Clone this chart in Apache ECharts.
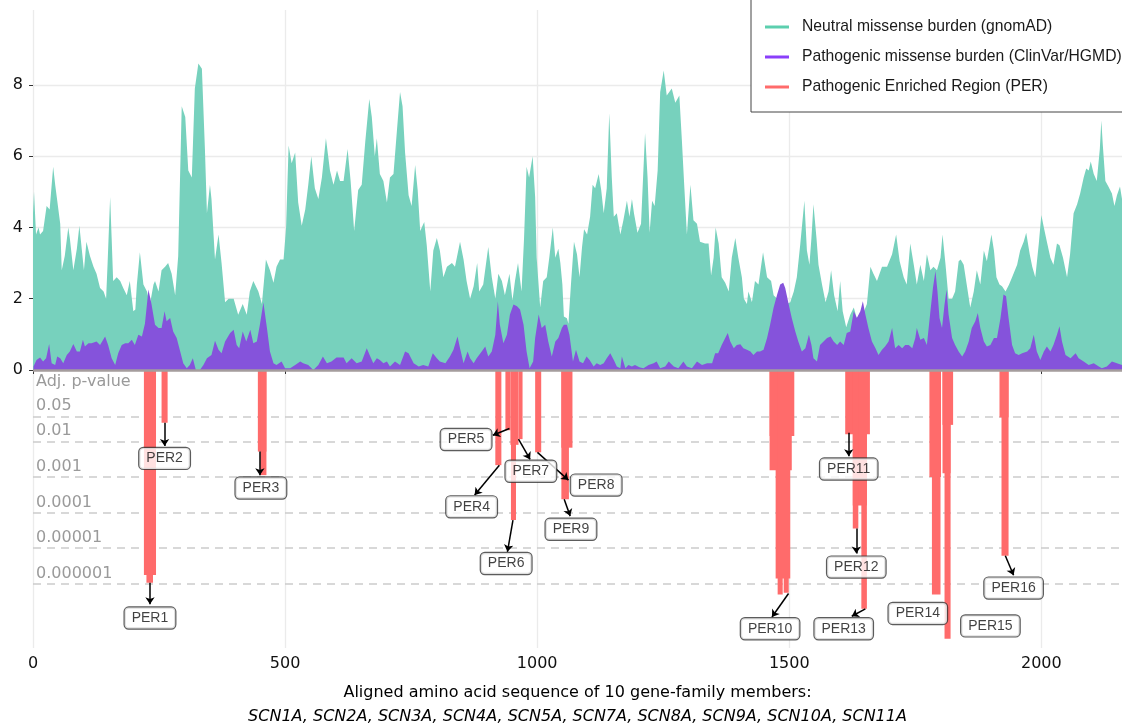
<!DOCTYPE html>
<html>
<head>
<meta charset="utf-8">
<script src="https://cdn.jsdelivr.net/npm/echarts@6/dist/echarts.min.js"></script>
<style>
html,body{margin:0;padding:0;background:#fff;}
#chart{width:1122px;height:726px;}
</style>
</head>
<body>
<div id="chart"></div>
<script>
// ---- Data ----
const neutralBurden = [
[0,4.4],[2,5.0],[6,3.8],[11,4.0],[14,3.8],[20,3.9],[27,4.6],[33,4.5],[40,5.7],[44,5.2],[54,4.1],[57,2.8],[63,3.2],[70,4.0],[73,3.7],[80,2.8],[87,3.4],[92,4.05],[97,3.35],[101,2.8],[106,3.6],[113,3.2],[120,2.9],[126,2.7],[133,2.3],[140,2.2],[145,2.0],[148,3.0],[153,4.85],[156,3.7],[159,2.5],[166,2.6],[173,2.5],[179,2.3],[186,2.1],[192,2.5],[199,1.65],[203,1.7],[206,2.4],[212,3.3],[219,2.4],[226,2.2],[232,1.85],[239,2.4],[242,2.5],[249,2.2],[255,2.8],[262,2.9],[268,3.0],[275,2.7],[282,2.1],[288,3.2],[295,7.4],[302,7.1],[308,5.6],[315,5.4],[321,7.9],[328,8.6],[335,8.45],
[337,8.4],[341,6.2],[345,4.4],[351,5.2],[354,4.8],[361,3.1],[368,3.8],[374,3.0],[381,1.9],[388,2.0],[398,2.0],[407,1.55],[416,1.85],[424,1.55],[430,2.2],[437,2.5],[447,2.2],[454,1.85],[462,3.1],[470,2.8],[477,2.45],[483,2.9],[490,3.1],[497,3.1],[502,4.0],[507,6.3],[513,5.8],[520,6.1],[526,4.7],[533,4.05],[540,4.5],[546,5.2],[552,6.0],[559,5.1],[566,4.8],[573,5.4],[581,6.5],[589,5.6],[596,5.2],[603,5.6],[609,5.3],[616,5.3],[624,6.2],[630,5.3],[637,3.9],[645,5.05],[652,5.2],[659,6.4],[667,7.6],[672,7.1],[678,6.0],[682,6.5],
[688,5.5],[695,5.3],[702,4.7],[708,5.4],[715,5.5],[722,6.75],[728,7.8],[733,7.4],[738,6.1],[745,4.9],[751,4.6],[758,5.75],[763,5.05],[768,3.9],[776,4.15],[781,3.5],[788,2.2],[794,3.35],[801,3.7],[807,3.35],[814,2.6],[821,2.9],[831,3.0],[837,2.9],[847,3.6],[854,3.1],[860,2.5],[867,2.0],[874,2.35],[881,3.0],[885,2.2],[893,2.4],[903,3.45],[910,2.6],[917,2.0],[923,2.7],[930,2.5],[936,2.1],[945,2.7],[951,1.95],[956,2.5],[962,3.0],[969,2.2],[974,3.7],[979,5.7],[984,5.4],[991,6.0],[996,4.85],[999,3.15],[1006,1.75],[1012,2.5],[1019,2.6],[1024,3.15],[1031,4.0],[1036,3.15],[1042,3.4],
[1046,3.0],[1050,2.4],[1053,1.5],[1059,1.45],[1062,1.3],[1067,2.4],[1073,3.6],[1079,3.25],[1084,2.6],[1089,3.45],[1093,3.95],[1099,3.8],[1105,4.3],[1110,5.2],[1115,5.1],[1122,5.5],[1127,5.05],[1132,4.4],[1138,5.1],[1143,7.2],[1148,5.4],[1152,4.3],[1158,4.4],[1165,3.8],[1171,4.2],[1178,4.75],[1183,4.3],[1188,4.8],[1192,4.4],[1199,3.85],[1206,4.1],[1214,6.65],[1219,5.4],[1223,3.85],[1228,4.75],[1233,4.6],[1239,5.6],[1244,7.8],[1251,8.4],[1257,7.7],[1267,7.9],[1274,7.5],[1282,7.7],[1287,6.45],[1292,5.1],[1297,3.8],[1304,5.2],[1310,4.2],[1317,4.1],[1323,3.6],[1333,3.55],[1340,3.55],[1345,2.65],[1350,3.15],[1354,4.0],[1360,3.55],[1366,2.6],[1373,2.45],[1380,2.2],[1386,3.15],[1393,3.7],[1399,3.15],
[1406,2.6],[1410,2.0],[1416,1.85],[1419,2.2],[1426,1.9],[1432,2.5],[1439,2.4],[1448,3.3],[1456,2.6],[1464,2.5],[1469,2.1],[1476,2.0],[1485,1.95],[1495,1.85],[1502,1.9],[1509,2.2],[1515,2.6],[1522,3.55],[1530,4.75],[1535,3.35],[1540,2.95],[1544,3.7],[1548,4.65],[1554,3.7],[1558,2.95],[1565,2.4],[1572,1.9],[1578,2.2],[1583,2.8],[1589,2.1],[1596,1.65],[1601,2.5],[1606,1.65],[1613,1.2],[1621,1.55],[1628,1.75],[1634,1.45],[1641,1.55],[1647,1.6],[1654,1.85],[1661,2.9],[1667,2.7],[1674,2.5],[1684,2.9],[1694,2.9],[1704,3.25],[1712,3.8],[1719,3.05],[1727,2.6],[1733,2.4],[1740,3.55],[1747,2.95],[1753,2.4],
[1760,2.95],[1767,2.5],[1773,3.25],[1780,2.8],[1786,2.9],[1793,2.8],[1800,3.15],[1804,3.8],[1810,2.95],[1816,2.0],[1823,2.0],[1829,2.2],[1836,3.05],[1840,3.1],[1846,2.95],[1852,2.4],[1859,1.75],[1866,2.2],[1872,2.8],[1879,2.4],[1886,3.35],[1892,3.05],[1901,3.8],[1906,3.35],[1911,2.6],[1917,2.4],[1922,2.35],[1929,2.2],[1936,2.4],[1942,2.6],[1952,2.95],[1958,3.35],[1965,3.6],[1970,3.85],[1977,3.25],[1982,2.9],[1988,2.6],[1995,3.55],[2000,4.35],[2005,4.0],[2011,3.6],[2018,3.15],[2024,2.95],[2031,3.55],[2036,3.5],[2043,3.15],[2051,2.6],[2057,3.25],[2064,4.4],[2071,4.65],[2077,4.95],[2084,5.4],[2089,5.65],[2094,5.6],[2098,5.85],[2104,5.5],[2110,5.3],[2116,6.2],[2119,7.0],[2122,6.3],[2127,5.3],[2133,5.15],[2140,4.95],[2145,4.6],[2150,4.9],[2156,5.15],[2160,4.8]
];

const pathogenicBurden = [
[1,0.1],[7,0.28],[14,0.35],[20,0.24],[26,0.33],[32,0.73],[37,0.19],[44,0.14],[48,0.38],[54,0.33],[60,0.19],[67,0.42],[73,0.52],[80,0.73],[87,0.52],[93,0.52],[99,0.85],[103,0.66],[110,0.75],[116,0.75],[126,0.8],[133,0.7],[143,0.94],[149,0.7],[156,0.33],[163,0.14],[169,0.47],[176,0.7],[183,0.75],[189,0.75],[196,0.85],[202,0.7],[209,0.99],[216,0.94],[222,1.3],[229,2.26],[235,1.85],[242,1.27],[249,1.18],[255,1.18],[261,1.65],[265,1.37],[272,1.46],[278,1.08],[285,0.9],[292,0.52],[298,0.19],[305,0.05],[311,0.14],[317,0.33],[323,0.0],[331,0.0],[338,0.14],[345,0.33],
[348,0.33],[354,0.42],[361,0.82],[368,0.57],[374,0.47],[381,0.8],[391,1.04],[398,1.13],[404,0.7],[409,0.61],[416,1.08],[423,0.8],[431,1.13],[437,0.75],[444,0.8],[450,1.27],[457,1.89],[464,1.18],[470,0.52],[477,0.19],[483,0.14],[493,0.24],[500,0.05],[510,0.05],[520,0.14],[530,0.24],[536,0.19],[546,0.14],[556,0.0],[566,0.14],[575,0.38],[583,0.19],[592,0.24],[602,0.35],[616,0.35],[622,0.19],[632,0.33],[642,0.19],[652,0.24],[662,0.61],[669,0.38],[675,0.19],[682,0.33],
[688,0.28],[695,0.19],[702,0.24],[708,0.1],[718,0.24],[728,0.14],[738,0.52],[745,0.47],[755,0.19],[765,0.1],[774,0.14],[784,0.1],[793,0.47],[801,0.33],[807,0.24],[818,0.19],[827,0.38],[834,0.57],[842,0.94],[847,0.61],[854,0.19],[862,0.52],[867,0.33],[874,0.19],[880,0.33],[890,0.52],[897,0.66],[903,0.38],[910,0.52],[917,0.99],[922,1.93],[926,1.27],[933,0.75],[940,0.99],[946,1.56],[953,1.84],[960,1.79],[966,1.7],[973,1.27],[979,0.52],[985,0.05],[992,0.24],[996,0.9],[1003,1.56],[1009,1.18],[1016,1.27],[1022,0.8],[1029,0.38],[1036,0.8],[1042,0.9],[1049,1.18],[1053,1.27],[1059,1.27],
[1064,0.99],[1071,0.24],[1077,0.57],[1084,0.24],[1091,0.19],[1098,0.38],[1104,0.28],[1112,0.1],[1118,0.19],[1125,0.14],[1132,0.19],[1138,0.33],[1145,0.47],[1152,0.28],[1158,0.1],[1165,0.05],[1168,0.38],[1175,0.05],[1181,0.14],[1188,0.1],[1194,0.14],[1204,0.07],[1211,0.05],[1221,0.14],[1231,0.19],[1237,0.24],[1244,0.05],[1254,0.1],[1261,0.24],[1271,0.1],[1280,0.05],[1290,0.24],[1297,0.1],[1307,0.05],[1317,0.24],[1327,0.14],[1337,0.19],[1347,0.19],[1353,0.47],[1359,0.47],[1366,0.7],[1373,0.9],[1378,1.04],[1383,0.8],[1390,0.61],[1396,0.7],[1403,0.72],
[1409,0.61],[1416,0.57],[1423,0.52],[1429,0.42],[1436,0.52],[1442,0.52],[1449,0.57],[1456,0.9],[1462,1.27],[1469,1.75],[1476,2.12],[1482,2.4],[1488,2.45],[1492,2.3],[1499,1.84],[1505,1.46],[1512,1.08],[1518,0.8],[1525,0.52],[1532,0.61],[1539,0.99],[1544,0.7],[1548,0.33],[1555,0.24],[1561,0.7],[1568,0.8],[1575,0.9],[1582,0.94],[1588,0.8],[1595,0.7],[1601,0.8],[1608,0.7],[1614,1.04],[1621,1.08],[1628,1.65],[1634,1.46],[1641,1.65],[1646,1.93],[1651,1.56],[1657,1.18],[1664,0.8],[1671,0.61],[1677,0.42],[1684,0.57],[1690,0.66],[1697,0.8],[1704,1.18],[1710,0.61],[1717,0.7],[1724,0.61],[1730,0.7],[1737,0.7],[1744,0.61],[1750,0.9],[1753,1.18],[1760,0.85],
[1767,0.9],[1773,0.7],[1780,1.65],[1785,2.3],[1790,2.78],[1794,2.2],[1798,1.46],[1803,1.18],[1808,1.84],[1812,2.26],[1816,1.56],[1823,0.9],[1829,0.7],[1836,0.52],[1843,0.38],[1849,0.52],[1856,0.8],[1862,1.18],[1869,1.37],[1874,1.6],[1879,1.18],[1886,0.8],[1892,0.66],[1899,0.7],[1906,0.9],[1912,0.9],[1919,1.46],[1925,2.12],[1930,2.07],[1935,1.46],[1942,0.7],[1948,0.47],[1955,0.42],[1962,0.47],[1972,0.52],[1978,0.61],[1985,0.99],[1991,0.52],[1998,0.28],[2005,0.52],[2011,0.66],[2018,0.52],[2024,0.7],[2031,0.99],[2036,1.23],[2041,0.8],[2048,0.42],[2058,0.33],[2068,0.47],[2074,0.33],[2084,0.24],[2094,0.14],[2104,0.19],[2114,0.1],[2120,0.05],[2130,0.1],[2140,0.24],[2150,0.19],[2160,0.14]
];

// PER segments: [start position, end position, -log10(adj. p-value)]
const perSegments = [
[220,244,5.75],[225,238,5.97],
[255,267,1.48],
[446,463,2.29],[451,463,2.95],
[917,929,2.67],
[937,947,1.69],[947,963,2.1],[948,958,4.21],[963,971,1.94],
[996,1008,2.31],
[1048,1070,2.18],[1048,1063,3.63],
[1461,1510,1.85],[1461,1505,2.81],[1473,1502,5.85],[1477,1487,6.3],[1489,1499,6.25],
[1611,1660,1.8],[1626,1654,3.8],[1626,1637,4.45],[1643,1654,6.7],
[1778,1801,3.0],[1783,1800,6.3],
[1804,1825,1.54],[1804,1820,2.9],[1808,1820,7.54],
[1917,1935,1.33],[1921,1935,5.21]
];

// PER annotations: [name, label x, label y, arrow from x, arrow from y, arrow to x, arrow to y]
const perLabels = [
['PER1',232,-6.96,232,-5.97,232,-6.57],
['PER2',261,-2.48,261,-1.48,261,-2.13],
['PER3',452,-3.31,450,-2.29,450,-2.95],
['PER4',870,-3.84,925,-2.67,876,-3.51],
['PER5',859,-1.95,945,-1.64,912,-1.83],
['PER6',938.5,-5.43,952,-4.21,941,-5.1],
['PER7',987.5,-2.84,963,-1.94,986,-2.51],
['PER8',1117,-3.23,1000.6,-2.31,1062,-3.09],
['PER9',1067,-4.47,1053.6,-3.63,1065.5,-4.1],
['PER10',1462,-7.26,1498.6,-6.27,1465.7,-6.93],
['PER11',1618,-2.78,1618,-1.76,1618,-2.42],
['PER12',1633,-5.53,1633,-4.45,1633,-5.15],
['PER13',1608,-7.26,1651,-6.7,1624,-6.91],
['PER14',1755,-6.83,null,null,null,null],
['PER15',1899,-7.18,null,null,null,null],
['PER16',1945,-6.12,1928.6,-5.21,1945,-5.76]
];

const pValueDepths = [1.30103, 2, 3, 4, 5, 6];
const pValueLabels = ['0.05','0.01','0.001','0.0001','0.00001','0.000001'];
const xTicks = [0,500,1000,1500,2000];
const yTicks = [0,2,4,6,8];

const NAME_N = 'Neutral missense burden (gnomAD)';
const NAME_P = 'Pathogenic missense burden (ClinVar/HGMD)';
const NAME_R = 'Pathogenic Enriched Region (PER)';
const GREEN = '#77d1bd', PURPLE = '#8553db', RED = '#ff6b6b';
const AXIS_FONT = 'DejaVu Sans';
const LAB_FONT = 'Liberation Sans';

const chart = echarts.init(document.getElementById('chart'), null, {renderer: 'canvas'});

const option = {
  animation: false,
  backgroundColor: '#fff',
  grid: {left: 33, right: 0, top: 10, bottom: 78, containLabel: false, outerBoundsMode: 'none'},
  legend: {
    orient: 'vertical', left: 751, top: -10,
    padding: [29, 40, 17, 14],
    itemWidth: 24, itemHeight: 3, itemGap: 14, icon: 'rect',
    backgroundColor: '#fff', borderColor: '#444', borderWidth: 1,
    selectedMode: false,
    textStyle: {fontSize: 15.7, fontFamily: LAB_FONT, color: '#1a1a1a', lineHeight: 16, padding: [0,0,0,8]},
    data: [
      {name: NAME_N, itemStyle: {color: '#5ccfae'}},
      {name: NAME_P, itemStyle: {color: '#8a3ffa'}},
      {name: NAME_R, itemStyle: {color: RED}}
    ]
  },
  xAxis: {
    type: 'value', min: 0, max: 2160,
    axisLine: {show: false},
    axisTick: {show: true, length: 4, customValues: xTicks, lineStyle: {color: '#333'}},
    axisLabel: {customValues: xTicks, formatter: v => String(v), fontSize: 16, fontFamily: AXIS_FONT, color: '#111', margin: 8},
    splitLine: {show: true, lineStyle: {color: '#ebebeb', width: 1.3}},
    name: 'Aligned amino acid sequence of 10 gene-family members:\n{it|SCN1A, SCN2A, SCN3A, SCN4A, SCN5A, SCN7A, SCN8A, SCN9A, SCN10A, SCN11A}',
    nameLocation: 'middle', nameGap: 33,
    nameTextStyle: {fontSize: 16, fontFamily: AXIS_FONT, color: '#000', lineHeight: 24,
      rich: {it: {fontStyle: 'italic', fontSize: 16, fontFamily: AXIS_FONT, color: '#000', lineHeight: 24}}}
  },
  yAxis: {
    type: 'value', min: -7.8, max: 10.1,
    axisLine: {show: false},
    axisTick: {show: true, length: 4, customValues: yTicks, lineStyle: {color: '#333'}},
    axisLabel: {customValues: yTicks, fontSize: 16, fontFamily: AXIS_FONT, color: '#111', margin: 10},
    splitLine: {show: true, lineStyle: {color: '#ebebeb', width: 1.3}}
  },
  series: [
    {
      name: 'pvalue-guides', type: 'line', data: [], z: 1, silent: true,
      markLine: {
        silent: true, symbol: 'none', z: 1, animation: false,
        lineStyle: {color: '#cccccc', width: 1.5, type: [8, 6]},
        label: {show: true, position: 'insideStartTop', distance: [3, 2], color: '#9a9a9a', fontSize: 16, fontFamily: AXIS_FONT},
        data: pValueDepths.map((d, i) => ({yAxis: -d, label: {formatter: pValueLabels[i]}}))
      }
    },
    {
      name: NAME_R, type: 'custom', z: 2,
      itemStyle: {color: RED},
      encode: {x: [0, 1], y: 2},
      renderItem: function (params, api) {
        const x1 = api.value(0), x2 = api.value(1), d = api.value(2);
        const p1 = api.coord([x1, 0]);
        const p2 = api.coord([x2, -d]);
        return {type: 'rect', shape: {x: p1[0], y: p1[1], width: p2[0] - p1[0], height: p2[1] - p1[1]},
                style: {fill: RED}};
      },
      data: perSegments
    },
    {
      name: NAME_N, type: 'line', z: 3, showSymbol: false, symbol: 'none', smooth: false,
      itemStyle: {color: GREEN}, lineStyle: {width: 0, color: GREEN},
      areaStyle: {color: GREEN, opacity: 1},
      data: neutralBurden
    },
    {
      name: NAME_P, type: 'line', z: 4, showSymbol: false, symbol: 'none', smooth: false,
      itemStyle: {color: PURPLE}, lineStyle: {width: 0, color: PURPLE},
      areaStyle: {color: PURPLE, opacity: 1},
      data: pathogenicBurden,
      markLine: {
        silent: true, symbol: 'none', animation: false,
        lineStyle: {color: '#a59d9d', width: 2.5, type: 'solid'},
        label: {show: true, position: 'insideStartBottom', distance: [3, 4], color: '#9a9a9a', fontSize: 16, fontFamily: AXIS_FONT, formatter: 'Adj. p-value'},
        data: [{yAxis: 0}]
      }
    },
    {
      name: 'per-arrows', type: 'lines', coordinateSystem: 'cartesian2d', z: 8, silent: true,
      polyline: false,
      symbol: ['none', 'arrow'], symbolSize: 7,
      lineStyle: {color: '#000', width: 1.5, opacity: 1},
      data: perLabels.filter(r => r[3] !== null).map(r => ({coords: [[r[3], r[4]], [r[5], r[6]]]}))
    },
    {
      name: 'per-labels', type: 'scatter', z: 9, silent: true,
      symbolSize: 0,
      label: {
        show: true, position: 'inside', formatter: p => p.data[2],
        fontSize: 14, fontFamily: LAB_FONT, color: '#111',
        backgroundColor: '#fff', borderColor: '#333', borderWidth: 1.2, borderRadius: 4,
        padding: [4, 7, 3, 7]
      },
      data: perLabels.map(r => [r[1], r[2], r[0]])
    }
  ]
};
chart.setOption(option);
</script>
</body>
</html>
